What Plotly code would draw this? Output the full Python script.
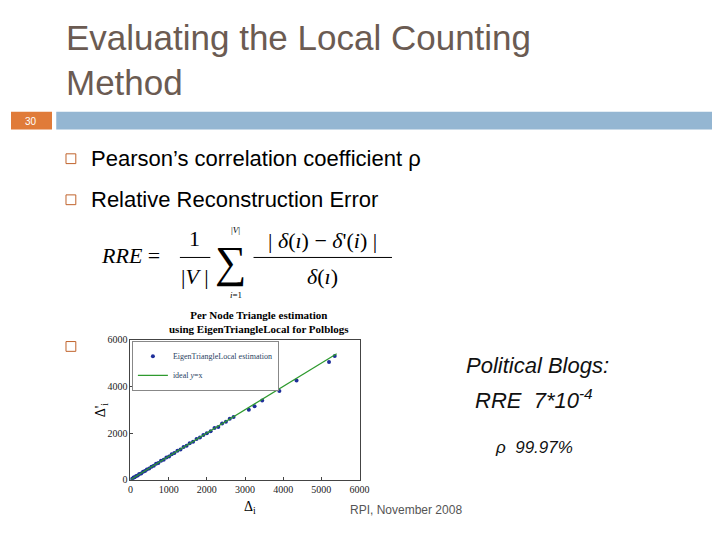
import plotly.graph_objects as go

# data
true_tri = [20, 50, 80, 110, 150, 190, 230, 280, 330, 380, 430, 490, 550, 610, 670, 730, 800, 870, 940, 1010,
            1080, 1150, 1230, 1310, 1390, 1470, 1550, 1640, 1730, 1820, 1910, 2000, 2100, 2200, 2300, 2400,
            2500, 2600, 2700, 3100, 3250, 3450, 3900, 4350, 5200, 5350]
est_tri = [15, 45, 90, 100, 160, 180, 240, 270, 340, 370, 440, 480, 560, 600, 680, 720, 810, 860, 950, 1000,
           1090, 1140, 1240, 1300, 1400, 1460, 1560, 1630, 1740, 1810, 1920, 1990, 2080, 2220, 2260, 2410,
           2480, 2610, 2690, 3000, 3150, 3400, 3800, 4250, 5050, 5300]
ideal = [0, 5400]
ticks = [0, 1000, 2000, 3000, 4000, 5000, 6000]
yticks = [0, 2000, 4000, 6000]

fig = go.Figure()
fig.add_trace(go.Scatter(x=true_tri, y=est_tri, mode="markers", name="EigenTriangleLocal estimation",
                         marker=dict(color="#1f2f9a", size=4)))
fig.add_trace(go.Scatter(x=ideal, y=ideal, mode="lines", name="ideal <i>y</i>=x",
                         line=dict(color="#2e9a2e", width=1.2)))

serif = "Liberation Serif"
sans = "Liberation Sans"
ax = dict(showgrid=False, zeroline=False, showline=True, linecolor="#444", mirror=True,
          ticks="inside", ticklen=3, tickfont=dict(family=serif, size=10, color="#222"))
fig.update_layout(
    width=720, height=540, paper_bgcolor="white", plot_bgcolor="white",
    margin=dict(l=0, r=0, t=0, b=0), showlegend=True,
    xaxis=dict(domain=[0.169, 0.493], range=[0, 6000], tickvals=ticks, **ax),
    yaxis=dict(domain=[0.118, 0.383], range=[0, 6000], tickvals=yticks, **ax),
    legend=dict(x=0.171, y=0.381, xanchor="left", yanchor="top", font=dict(family=serif, size=8),
                bgcolor="white", bordercolor="#888", borderwidth=1, itemwidth=30),
)

shapes = [
    dict(type="rect", xref="paper", yref="paper", x0=0, x1=0.058, y0=1-118/540, y1=1-100/540,
         fillcolor="#e07b39", line_width=0),
    dict(type="rect", xref="paper", yref="paper", x0=0.064, x1=1, y0=1-118/540, y1=1-100/540,
         fillcolor="#94b6d2", line_width=0),
]
for yy in [148, 190, 340]:
    shapes.append(dict(type="rect", xref="paper", yref="paper", x0=56/720, x1=66/720,
                       y0=1-(yy+5)/540, y1=1-(yy-5)/540, line=dict(color="#c0632c", width=1)))
shapes.append(dict(type="line", xref="paper", yref="paper", x0=172/720, x1=203/720,
                   y0=1-249/540, y1=1-249/540, line=dict(color="black", width=1)))
shapes.append(dict(type="line", xref="paper", yref="paper", x0=247/720, x1=388/720,
                   y0=1-249/540, y1=1-249/540, line=dict(color="black", width=1)))
fig.update_layout(shapes=shapes)

def ann(x, y, text, size, color="black", family=sans, xanchor="left", **kw):
    fig.add_annotation(x=x/720, y=1-y/540, xref="paper", yref="paper", text=text, showarrow=False,
                       xanchor=xanchor, yanchor="middle", font=dict(size=size, color=color, family=family), **kw)

ann(54, 35, "Evaluating the Local Counting", 35, "#6b5b52", yshift=0)
ann(54, 81, "Method", 35, "#6b5b52")
fig.layout.annotations[0].y = 1 - 24/540
fig.layout.annotations[1].y = 1 - 70/540
ann(20, 110, "30", 10, "white", xanchor="center")
ann(79, 148, "Pearson’s correlation coefficient ρ", 22, "black")
ann(79, 190, "Relative Reconstruction Error", 22, "black")
ann(90, 247, "<i>RRE</i> =", 22, family=serif)
ann(187, 230, "1", 22, family=serif, xanchor="center")
ann(187, 268, "|<i>V</i> |", 22, family=serif, xanchor="center")
ann(224, 254, "∑", 44, family=serif, xanchor="center")
ann(229, 221, "|<i>V</i>|", 9, family=serif, xanchor="center")
ann(229, 287, "<i>i</i>=1", 9, family=serif, xanchor="center")
ann(317, 232, "| <i>δ</i>(<i>ı</i>) − <i>δ</i>'(<i>i</i>) |", 22, family=serif, xanchor="center")
ann(317, 268, "<i>δ</i>(<i>ı</i>)", 22, family=serif, xanchor="center")
ann(253, 315, "<b>Per Node Triangle estimation<br>using EigenTriangleLocal for Polblogs</b>", 11,
    family=serif, xanchor="center")
ann(243, 505, "Δ<sub>i</sub>", 14, family=serif, xanchor="center")
ann(92, 405, "Δ'<sub>i</sub>", 14, family=serif, xanchor="center", textangle=-90)
ann(536, 359, "<i>Political Blogs:</i>", 22, "#111", sans, xanchor="center")
ann(533, 394, "<i>RRE  7*10<sup>-4</sup></i>", 22, "#111", sans, xanchor="center")
ann(533, 443, "<i>ρ  99.97%</i>", 17, "#111", sans, xanchor="center")
ann(402, 507, "RPI, November 2008", 12, "#555", sans, xanchor="center")

fig.write_html("out.html")
